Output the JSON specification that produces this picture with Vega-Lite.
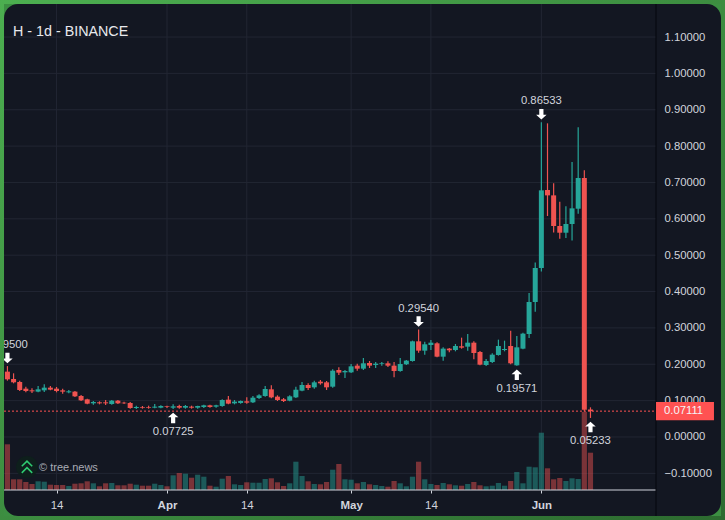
{"$schema":"https://vega.github.io/schema/vega-lite/v6.json","autosize":{"type":"none"},"width":717,"height":512,"padding":{"left":4,"top":4,"right":4,"bottom":4},"background":"#3c8f42","title":{"text":"H - 1d - BINANCE","anchor":"start","frame":"group","offset":-43,"dx":9,"font":"Liberation Sans","fontSize":14.3,"fontWeight":"normal","color":"#e8e9ed"},"config":{"view":{"fill":"#131722","stroke":null,"cornerRadius":14},"font":"Liberation Sans"},"datasets":{"candles":[
{"t":"2026-03-06","o":0.1797,"h":0.195,"l":0.155,"c":0.1586,"v":45.7,"d":"d"},
{"t":"2026-03-07","o":0.1595,"h":0.1751,"l":0.1476,"c":0.1504,"v":10.7,"d":"d"},
{"t":"2026-03-08","o":0.1513,"h":0.155,"l":0.1265,"c":0.1293,"v":10.7,"d":"d"},
{"t":"2026-03-09","o":0.1329,"h":0.1384,"l":0.1228,"c":0.1265,"v":8,"d":"d"},
{"t":"2026-03-10","o":0.1283,"h":0.1338,"l":0.121,"c":0.1256,"v":6,"d":"d"},
{"t":"2026-03-11","o":0.1247,"h":0.1403,"l":0.1228,"c":0.1311,"v":8.7,"d":"u"},
{"t":"2026-03-12","o":0.1283,"h":0.1448,"l":0.1238,"c":0.1357,"v":8.3,"d":"u"},
{"t":"2026-03-13","o":0.1357,"h":0.1403,"l":0.1283,"c":0.1302,"v":5.3,"d":"d"},
{"t":"2026-03-14","o":0.1329,"h":0.1375,"l":0.1228,"c":0.1265,"v":5,"d":"d"},
{"t":"2026-03-15","o":0.1283,"h":0.1329,"l":0.1192,"c":0.1247,"v":5,"d":"d"},
{"t":"2026-03-16","o":0.1228,"h":0.1292,"l":0.1201,"c":0.1256,"v":4,"d":"u"},
{"t":"2026-03-17","o":0.1247,"h":0.1265,"l":0.11,"c":0.1118,"v":6.3,"d":"d"},
{"t":"2026-03-18","o":0.1127,"h":0.1155,"l":0.099,"c":0.1008,"v":6.7,"d":"d"},
{"t":"2026-03-19","o":0.1036,"h":0.1054,"l":0.0898,"c":0.0916,"v":8.7,"d":"d"},
{"t":"2026-03-20","o":0.0926,"h":0.099,"l":0.0889,"c":0.0962,"v":6.7,"d":"u"},
{"t":"2026-03-21","o":0.0953,"h":0.0981,"l":0.0898,"c":0.0926,"v":3.7,"d":"d"},
{"t":"2026-03-22","o":0.0953,"h":0.1017,"l":0.088,"c":0.0926,"v":6.7,"d":"d"},
{"t":"2026-03-23","o":0.0907,"h":0.1017,"l":0.0889,"c":0.0999,"v":7,"d":"u"},
{"t":"2026-03-24","o":0.0999,"h":0.1017,"l":0.0907,"c":0.0926,"v":4.7,"d":"d"},
{"t":"2026-03-25","o":0.0944,"h":0.0972,"l":0.0907,"c":0.0926,"v":4.7,"d":"d"},
{"t":"2026-03-26","o":0.0935,"h":0.0962,"l":0.0779,"c":0.0797,"v":6.3,"d":"d"},
{"t":"2026-03-27","o":0.0797,"h":0.0861,"l":0.077,"c":0.0825,"v":5.3,"d":"u"},
{"t":"2026-03-28","o":0.0825,"h":0.0852,"l":0.0779,"c":0.0806,"v":4.3,"d":"d"},
{"t":"2026-03-29","o":0.0825,"h":0.0861,"l":0.0779,"c":0.0806,"v":4.3,"d":"d"},
{"t":"2026-03-30","o":0.0806,"h":0.0907,"l":0.0788,"c":0.0834,"v":6.3,"d":"u"},
{"t":"2026-03-31","o":0.0806,"h":0.0871,"l":0.0788,"c":0.0852,"v":5,"d":"u"},
{"t":"2026-04-01","o":0.0843,"h":0.0861,"l":0.0797,"c":0.0825,"v":3.7,"d":"d"},
{"t":"2026-04-02","o":0.0806,"h":0.0898,"l":0.07725,"c":0.0843,"v":14.7,"d":"u"},
{"t":"2026-04-03","o":0.0852,"h":0.0889,"l":0.0775,"c":0.0806,"v":17,"d":"d"},
{"t":"2026-04-04","o":0.0806,"h":0.088,"l":0.0779,"c":0.0852,"v":16.3,"d":"u"},
{"t":"2026-04-05","o":0.0834,"h":0.0861,"l":0.0779,"c":0.0806,"v":12.3,"d":"d"},
{"t":"2026-04-06","o":0.0806,"h":0.0861,"l":0.0779,"c":0.0852,"v":15.3,"d":"u"},
{"t":"2026-04-07","o":0.0825,"h":0.0889,"l":0.0797,"c":0.0871,"v":13.3,"d":"u"},
{"t":"2026-04-08","o":0.0871,"h":0.0889,"l":0.0806,"c":0.0825,"v":4.3,"d":"d"},
{"t":"2026-04-09","o":0.0834,"h":0.0889,"l":0.0806,"c":0.0871,"v":3.3,"d":"u"},
{"t":"2026-04-10","o":0.0852,"h":0.1036,"l":0.0834,"c":0.1017,"v":11.3,"d":"u"},
{"t":"2026-04-11","o":0.1027,"h":0.1127,"l":0.0898,"c":0.0917,"v":14,"d":"d"},
{"t":"2026-04-12","o":0.0926,"h":0.1017,"l":0.0898,"c":0.0972,"v":5.7,"d":"u"},
{"t":"2026-04-13","o":0.0935,"h":0.1005,"l":0.0916,"c":0.099,"v":5,"d":"u"},
{"t":"2026-04-14","o":0.0981,"h":0.109,"l":0.0916,"c":0.0944,"v":7.7,"d":"d"},
{"t":"2026-04-15","o":0.0953,"h":0.1127,"l":0.0935,"c":0.1081,"v":7.3,"d":"u"},
{"t":"2026-04-16","o":0.1072,"h":0.1173,"l":0.1045,"c":0.1145,"v":7.3,"d":"u"},
{"t":"2026-04-17","o":0.1127,"h":0.1402,"l":0.1109,"c":0.132,"v":11,"d":"u"},
{"t":"2026-04-18","o":0.1311,"h":0.142,"l":0.1063,"c":0.109,"v":11.7,"d":"d"},
{"t":"2026-04-19","o":0.1109,"h":0.1146,"l":0.099,"c":0.1017,"v":7.7,"d":"d"},
{"t":"2026-04-20","o":0.1036,"h":0.107,"l":0.0962,"c":0.099,"v":4,"d":"d"},
{"t":"2026-04-21","o":0.0999,"h":0.1146,"l":0.098,"c":0.1118,"v":6.7,"d":"u"},
{"t":"2026-04-22","o":0.109,"h":0.1384,"l":0.1072,"c":0.13,"v":28.3,"d":"u"},
{"t":"2026-04-23","o":0.1274,"h":0.1512,"l":0.1256,"c":0.143,"v":14,"d":"u"},
{"t":"2026-04-24","o":0.143,"h":0.1476,"l":0.1292,"c":0.1347,"v":8.7,"d":"d"},
{"t":"2026-04-25","o":0.1366,"h":0.1549,"l":0.1329,"c":0.1503,"v":6,"d":"u"},
{"t":"2026-04-26","o":0.1522,"h":0.1567,"l":0.1439,"c":0.1476,"v":5.7,"d":"d"},
{"t":"2026-04-27","o":0.1503,"h":0.154,"l":0.1292,"c":0.1366,"v":8,"d":"d"},
{"t":"2026-04-28","o":0.1384,"h":0.1861,"l":0.1356,"c":0.1824,"v":20.3,"d":"u"},
{"t":"2026-04-29","o":0.1843,"h":0.1916,"l":0.1705,"c":0.1769,"v":26,"d":"d"},
{"t":"2026-04-30","o":0.1778,"h":0.1843,"l":0.1622,"c":0.1815,"v":10.7,"d":"u"},
{"t":"2026-05-01","o":0.1778,"h":0.2008,"l":0.176,"c":0.1943,"v":10.3,"d":"u"},
{"t":"2026-05-02","o":0.1962,"h":0.2017,"l":0.1824,"c":0.1879,"v":6.7,"d":"d"},
{"t":"2026-05-03","o":0.1879,"h":0.2173,"l":0.1842,"c":0.2026,"v":8,"d":"u"},
{"t":"2026-05-04","o":0.2035,"h":0.209,"l":0.1898,"c":0.1962,"v":5.7,"d":"d"},
{"t":"2026-05-05","o":0.198,"h":0.2063,"l":0.1898,"c":0.2017,"v":5,"d":"u"},
{"t":"2026-05-06","o":0.2007,"h":0.2063,"l":0.1962,"c":0.2026,"v":4,"d":"u"},
{"t":"2026-05-07","o":0.2026,"h":0.2081,"l":0.1925,"c":0.1962,"v":3.3,"d":"d"},
{"t":"2026-05-08","o":0.1962,"h":0.2063,"l":0.1641,"c":0.1815,"v":9,"d":"d"},
{"t":"2026-05-09","o":0.1815,"h":0.2173,"l":0.1797,"c":0.2007,"v":6.7,"d":"u"},
{"t":"2026-05-10","o":0.2,"h":0.2118,"l":0.198,"c":0.21,"v":3.7,"d":"u"},
{"t":"2026-05-11","o":0.209,"h":0.265,"l":0.2072,"c":0.2631,"v":13.3,"d":"u"},
{"t":"2026-05-12","o":0.2631,"h":0.2954,"l":0.2319,"c":0.2374,"v":28.3,"d":"d"},
{"t":"2026-05-13","o":0.2374,"h":0.2622,"l":0.2264,"c":0.2549,"v":10.7,"d":"u"},
{"t":"2026-05-14","o":0.253,"h":0.2668,"l":0.2393,"c":0.2594,"v":6,"d":"u"},
{"t":"2026-05-15","o":0.2576,"h":0.2604,"l":0.2191,"c":0.2209,"v":5,"d":"d"},
{"t":"2026-05-16","o":0.2209,"h":0.2466,"l":0.21,"c":0.243,"v":7,"d":"u"},
{"t":"2026-05-17","o":0.243,"h":0.2448,"l":0.2329,"c":0.2384,"v":5.7,"d":"d"},
{"t":"2026-05-18","o":0.2393,"h":0.2558,"l":0.2356,"c":0.2503,"v":4.7,"d":"u"},
{"t":"2026-05-19","o":0.2494,"h":0.2732,"l":0.2429,"c":0.2457,"v":4.3,"d":"d"},
{"t":"2026-05-20","o":0.2484,"h":0.2833,"l":0.2374,"c":0.2594,"v":6,"d":"u"},
{"t":"2026-05-21","o":0.2594,"h":0.2631,"l":0.2136,"c":0.231,"v":8,"d":"d"},
{"t":"2026-05-22","o":0.2337,"h":0.2365,"l":0.197,"c":0.1989,"v":4.7,"d":"d"},
{"t":"2026-05-23","o":0.198,"h":0.2145,"l":0.1952,"c":0.209,"v":3.7,"d":"u"},
{"t":"2026-05-24","o":0.2062,"h":0.23,"l":0.2035,"c":0.2264,"v":4.3,"d":"u"},
{"t":"2026-05-25","o":0.2255,"h":0.2677,"l":0.2237,"c":0.2502,"v":7,"d":"u"},
{"t":"2026-05-26","o":0.2392,"h":0.2649,"l":0.2356,"c":0.242,"v":4.3,"d":"u"},
{"t":"2026-05-27","o":0.2502,"h":0.2924,"l":0.2,"c":0.2026,"v":9,"d":"d"},
{"t":"2026-05-28","o":0.1971,"h":0.2778,"l":0.19571,"c":0.2466,"v":18,"d":"u"},
{"t":"2026-05-29","o":0.2429,"h":0.2869,"l":0.2411,"c":0.2842,"v":6.7,"d":"u"},
{"t":"2026-05-30","o":0.2833,"h":0.396,"l":0.2723,"c":0.3713,"v":23.3,"d":"u"},
{"t":"2026-05-31","o":0.3713,"h":0.48,"l":0.3446,"c":0.4648,"v":22.7,"d":"u"},
{"t":"2026-06-01","o":0.4648,"h":0.86533,"l":0.455,"c":0.6783,"v":57.3,"d":"u"},
{"t":"2026-06-02","o":0.6792,"h":0.8626,"l":0.6077,"c":0.6645,"v":21.7,"d":"d"},
{"t":"2026-06-03","o":0.6645,"h":0.6975,"l":0.5627,"c":0.5802,"v":10.7,"d":"d"},
{"t":"2026-06-04","o":0.5802,"h":0.6471,"l":0.5453,"c":0.5618,"v":12,"d":"d"},
{"t":"2026-06-05","o":0.5618,"h":0.6343,"l":0.5472,"c":0.5857,"v":9,"d":"u"},
{"t":"2026-06-06","o":0.5857,"h":0.7562,"l":0.5407,"c":0.6288,"v":11.7,"d":"u"},
{"t":"2026-06-07","o":0.6278,"h":0.8516,"l":0.614,"c":0.7122,"v":11,"d":"u"},
{"t":"2026-06-08","o":0.7122,"h":0.7333,"l":0.07,"c":0.075,"v":78,"d":"d"},
{"t":"2026-06-09","o":0.0756,"h":0.0816,"l":0.05233,"c":0.07111,"v":37.3,"d":"d"}
],"notes":[
{"t":"2026-03-06","p":0.195,"k":"high","s":"0.19500"},
{"t":"2026-05-12","p":0.2954,"k":"high","s":"0.29540"},
{"t":"2026-06-01","p":0.86533,"k":"high","s":"0.86533"},
{"t":"2026-04-02","p":0.07725,"k":"low","s":"0.07725"},
{"t":"2026-05-28","p":0.19571,"k":"low","s":"0.19571"},
{"t":"2026-06-09","p":0.05233,"k":"low","s":"0.05233"}
],"hlines":[
{"p":-0.1,"a":"2026-03-05T10:34:00Z","b":"2026-06-19T16:19:00Z"},
{"p":0,"a":"2026-03-05T10:34:00Z","b":"2026-06-19T16:19:00Z"},
{"p":0.1,"a":"2026-03-05T10:34:00Z","b":"2026-06-19T16:19:00Z"},
{"p":0.2,"a":"2026-03-05T10:34:00Z","b":"2026-06-19T16:19:00Z"},
{"p":0.3,"a":"2026-03-05T10:34:00Z","b":"2026-06-19T16:19:00Z"},
{"p":0.4,"a":"2026-03-05T10:34:00Z","b":"2026-06-19T16:19:00Z"},
{"p":0.5,"a":"2026-03-05T10:34:00Z","b":"2026-06-19T16:19:00Z"},
{"p":0.6,"a":"2026-03-05T10:34:00Z","b":"2026-06-19T16:19:00Z"},
{"p":0.7,"a":"2026-03-05T10:34:00Z","b":"2026-06-19T16:19:00Z"},
{"p":0.8,"a":"2026-03-05T10:34:00Z","b":"2026-06-19T16:19:00Z"},
{"p":0.9,"a":"2026-03-05T10:34:00Z","b":"2026-06-19T16:19:00Z"},
{"p":1,"a":"2026-03-05T10:34:00Z","b":"2026-06-19T16:19:00Z"},
{"p":1.1,"a":"2026-03-05T10:34:00Z","b":"2026-06-19T16:19:00Z"}
]},
"encoding":{"x":{"field":"t","type":"temporal","title":null,"scale":{"type":"utc","nice":false,"padding":0,"domain":["2026-03-05T10:34:00Z","2026-06-30T06:29:00Z"]},"axis":{"orient":"bottom","offset":-26,"grid":false,"domain":false,"values":["2026-03-14","2026-04-01","2026-04-14","2026-05-01","2026-05-14","2026-06-01"],"labelExpr":"utcdate(datum.value)==1 ? utcFormat(datum.value,'%b') : utcFormat(datum.value,'%d')","labelFontWeight":{"condition":{"test":"utcdate(datum.value)==1","value":"bold"},"value":"normal"},"labelColor":"#d1d4dc","labelFontSize":11.5,"labelPadding":6,"tickColor":"#d1d4dc","tickSize":3,"labelFlush":false,"labelOverlap":false}}},
"layer":[
{"layer":[
{"data":{"values":[{"t":"2026-03-14"},{"t":"2026-04-01"},{"t":"2026-04-14"},{"t":"2026-05-01"},{"t":"2026-05-14"},{"t":"2026-06-01"}]},"mark":{"type":"rule","stroke":"#222633","strokeWidth":1},"encoding":{"y":{"datum":1.1908,"type":"quantitative","scale":{"domain":[-0.2173,1.1908],"nice":false,"zero":false,"padding":0},"axis":null},"y2":{"datum":-0.1458}}},
{"data":{"name":"hlines"},"mark":{"type":"rule","stroke":"#222633","strokeWidth":1},"encoding":{"x":{"field":"a","type":"temporal"},"x2":{"field":"b"},"y":{"field":"p","type":"quantitative","axis":null}}}
]},
{"data":{"name":"candles"},"mark":{"type":"bar","size":5.2,"opacity":0.47},"encoding":{"y":{"field":"v","type":"quantitative","axis":null,"scale":{"domain":[-26,486],"nice":false,"zero":false,"padding":0}},"y2":{"datum":0},"color":{"field":"d","type":"nominal","legend":null,"scale":{"domain":["u","d"],"range":["#26a69a","#ef5350"]}}}},
{"layer":[
{"data":{"name":"candles"},"mark":{"type":"rule","strokeWidth":1.2},"encoding":{"y":{"field":"l","type":"quantitative","scale":{"domain":[-0.2173,1.1908],"nice":false,"zero":false,"padding":0},"title":null,"axis":{"title":null,"orient":"right","offset":-65,"domain":false,"grid":false,"ticks":false,"values":[-0.1,0,0.1,0.2,0.3,0.4,0.5,0.6,0.7,0.8,0.9,1,1.1],"format":".5f","labelColor":"#d1d4dc","labelFontSize":11.3,"labelPadding":8,"labelFlush":false,"labelOverlap":false,"labelAlign":"left"}},"y2":{"field":"h"},"color":{"field":"d","type":"nominal","legend":null,"scale":{"domain":["u","d"],"range":["#26a69a","#ff5252"]}}}},
{"data":{"name":"candles"},"mark":{"type":"bar","size":5},"encoding":{"y":{"field":"o","type":"quantitative","title":null},"y2":{"field":"c"},"color":{"field":"d","type":"nominal","legend":null}}},
{"data":{"values":[{"p":0.07111,"a":"2026-03-05T10:34:00Z","b":"2026-06-19T16:19:00Z"}]},"mark":{"type":"rule","stroke":"#ff5252","strokeWidth":1,"strokeDash":[2,2]},"encoding":{"x":{"field":"a","type":"temporal"},"x2":{"field":"b"},"y":{"field":"p","type":"quantitative","title":null}}},
{"data":{"values":[{"p":-0.1458,"a":"2026-03-05T10:34:00Z","b":"2026-06-19T16:19:00Z"}]},"mark":{"type":"rule","stroke":"#d1d4dc","strokeWidth":1},"encoding":{"x":{"field":"a","type":"temporal"},"x2":{"field":"b"},"y":{"field":"p","type":"quantitative","title":null}}},
{"data":{"values":[{"t":"2026-06-19T16:19:00Z","p":1.1908,"q":-0.2173}]},"mark":{"type":"rule","stroke":"#05070c","strokeWidth":1},"encoding":{"y":{"field":"p","type":"quantitative","title":null},"y2":{"field":"q"}}},
{"data":{"values":[{"t":"2026-06-19T16:19:00Z","e":"2026-06-29T03:00:00Z","p":0.0963,"q":0.0459}]},"mark":{"type":"rect","fill":"#ff5252"},"encoding":{"x2":{"field":"e"},"y":{"field":"p","type":"quantitative","title":null},"y2":{"field":"q"}}},
{"data":{"values":[{"t":"2026-06-20T23:30:00Z","p":0.07111,"s":"0.07111"}]},"mark":{"type":"text","align":"left","baseline":"middle","fontSize":11.3,"fill":"#f5f5f7"},"encoding":{"y":{"field":"p","type":"quantitative","title":null},"text":{"field":"s"}}},
{"data":{"name":"notes"},"transform":[{"filter":"datum.k=='high'"}],"mark":{"type":"point","shape":"M0,1 L1,0.1 L0.4,0.1 L0.4,-1 L-0.4,-1 L-0.4,0.1 L-1,0.1 Z","filled":true,"fill":"#ffffff","opacity":1,"size":110,"yOffset":-8},"encoding":{"y":{"field":"p","type":"quantitative","title":null}}},
{"data":{"name":"notes"},"transform":[{"filter":"datum.k=='high'"}],"mark":{"type":"text","dy":-21,"baseline":"middle","fontSize":11.3,"fill":"#d1d4dc","clip":true},"encoding":{"y":{"field":"p","type":"quantitative","title":null},"text":{"field":"s"}}},
{"data":{"name":"notes"},"transform":[{"filter":"datum.k=='low'"}],"mark":{"type":"point","shape":"M0,-1 L1,-0.1 L0.4,-0.1 L0.4,1 L-0.4,1 L-0.4,-0.1 L-1,-0.1 Z","filled":true,"fill":"#ffffff","opacity":1,"size":110,"yOffset":9},"encoding":{"y":{"field":"p","type":"quantitative","title":null}}},
{"data":{"name":"notes"},"transform":[{"filter":"datum.k=='low'"}],"mark":{"type":"text","dy":23,"baseline":"middle","fontSize":11.3,"fill":"#d1d4dc"},"encoding":{"y":{"field":"p","type":"quantitative","title":null},"text":{"field":"s"}}},
{"data":{"values":[{"t":"2026-03-09T04:30:00Z","p":-0.0825}]},"mark":{"type":"point","shape":"circle","filled":true,"fill":"#0e1f1c","opacity":1,"size":480},"encoding":{"y":{"field":"p","type":"quantitative","title":null}}},
{"data":{"values":[{"t":"2026-03-09T04:30:00Z","p":-0.0825}]},"mark":{"type":"point","shape":"M-0.8,-0.1 L0,-0.9 L0.8,-0.1 M-0.8,0.9 L0,0.1 L0.8,0.9","filled":false,"fill":null,"stroke":"#2ecc71","strokeWidth":1.5,"opacity":1,"size":170},"encoding":{"y":{"field":"p","type":"quantitative","title":null}}},
{"data":{"values":[{"t":"2026-03-11T03:30:00Z","p":-0.0858,"s":"© tree.news"}]},"mark":{"type":"text","align":"left","baseline":"middle","fontSize":11,"fill":"#a9acb5"},"encoding":{"y":{"field":"p","type":"quantitative","title":null},"text":{"field":"s"}}},
{"data":{"values":[{"t":"2026-03-04T19:00:00Z","e":"2026-06-30T22:05:00Z","p":1.2019,"q":-0.2283}]},"mark":{"type":"rect","fill":"transparent","strokeWidth":8,"stroke":{"gradient":"linear","x1":0,"y1":0,"x2":1,"y2":1,"stops":[{"offset":0,"color":"#4caf50"},{"offset":1,"color":"#2d6b30"}]}},"encoding":{"x2":{"field":"e"},"y":{"field":"p","type":"quantitative","title":null},"y2":{"field":"q"}}}
]}
],"resolve":{"scale":{"y":"independent"}}}
